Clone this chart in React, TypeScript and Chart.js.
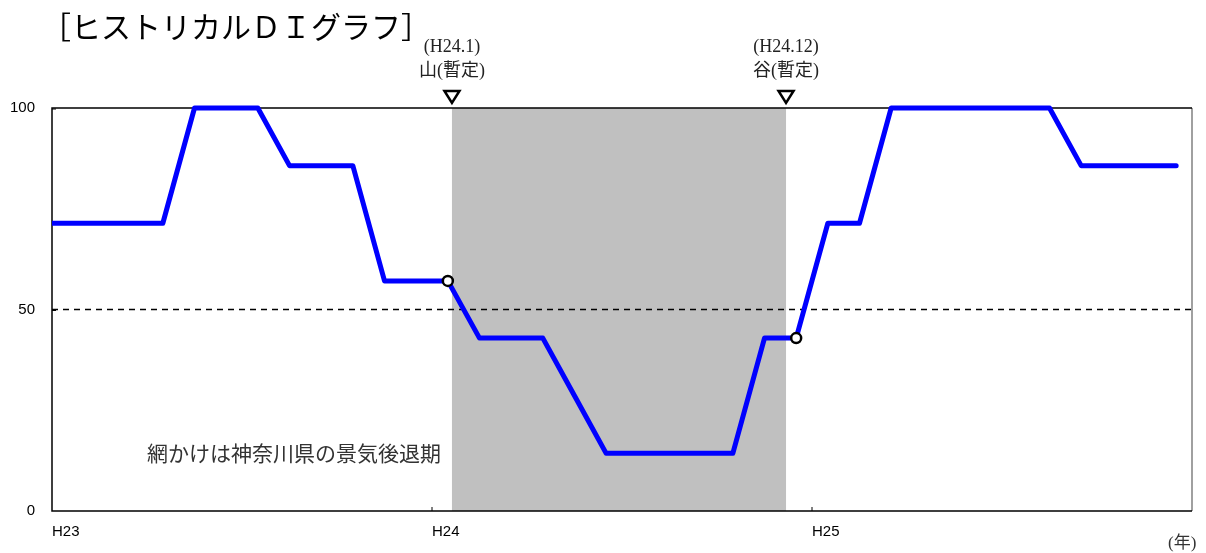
import React, { useEffect, useRef } from "react";
import { Chart, registerables } from "chart.js";

Chart.register(...registerables);

const monthLabels = [
  "H22.12",
  "H23.1", "H23.2", "H23.3", "H23.4", "H23.5", "H23.6", "H23.7", "H23.8", "H23.9", "H23.10", "H23.11", "H23.12",
  "H24.1", "H24.2", "H24.3", "H24.4", "H24.5", "H24.6", "H24.7", "H24.8", "H24.9", "H24.10", "H24.11", "H24.12",
  "H25.1", "H25.2", "H25.3", "H25.4", "H25.5", "H25.6", "H25.7", "H25.8", "H25.9", "H25.10", "H25.11", "H25.12",
];

const diValues = [
  71.4,
  71.4, 71.4, 71.4, 71.4, 100, 100, 100, 85.7, 85.7, 85.7, 57.1, 57.1,
  57.1, 42.9, 42.9, 42.9, 28.6, 14.3, 14.3, 14.3, 14.3, 14.3, 42.9, 42.9,
  71.4, 71.4, 100, 100, 100, 100, 100, 100, 85.7, 85.7, 85.7, 85.7,
];

const yearLabels = ["H23", "H24", "H25"];
const yTicks = [0, 50, 100];
const turningPointLabels = ["H24.1", "H24.12"];
const turningPointTitles = ["(H24.1)", "(H24.12)"];
const turningPointNames = ["山(暫定)", "谷(暫定)"];
const recessionBounds = [12.63, 23.18];

const TITLE = "［ヒストリカルＤＩグラフ］";
const NOTE = "網かけは神奈川県の景気後退期";
const UNIT = "(年)";

const serif = '"Liberation Serif", "Noto Sans CJK JP", serif';
const sans = '"Noto Sans CJK JP", "Liberation Sans", sans-serif';

const decorPlugin = {
  id: "decor",
  beforeDatasetsDraw(chart: any) {
    const { ctx, chartArea: a, scales } = chart;
    const x = scales.x;
    const y = scales.y;
    ctx.save();
    const x0 = x.getPixelForValue(recessionBounds[0]);
    const x1 = x.getPixelForValue(recessionBounds[1]);
    ctx.fillStyle = "#C0C0C0";
    ctx.fillRect(x0, a.top, x1 - x0, a.bottom - a.top);
    const y50 = y.getPixelForValue(50);
    ctx.strokeStyle = "#000";
    ctx.lineWidth = 1.5;
    ctx.setLineDash([6, 5]);
    ctx.beginPath();
    ctx.moveTo(a.left, y50);
    ctx.lineTo(a.right, y50);
    ctx.stroke();
    ctx.setLineDash([]);
    ctx.strokeStyle = "#808080";
    ctx.lineWidth = 1.5;
    ctx.beginPath();
    ctx.moveTo(a.right, a.top);
    ctx.lineTo(a.right, a.bottom);
    ctx.stroke();
    ctx.strokeStyle = "#000";
    ctx.beginPath();
    ctx.moveTo(a.right, a.top);
    ctx.lineTo(a.left, a.top);
    ctx.lineTo(a.left, a.bottom);
    ctx.lineTo(a.right, a.bottom);
    ctx.stroke();
    ctx.lineWidth = 1;
    yTicks.forEach((v) => {
      if (v === 0) return;
      const py = y.getPixelForValue(v);
      ctx.beginPath();
      ctx.moveTo(a.left, py + 1);
      ctx.lineTo(a.left + 4, py + 1);
      ctx.stroke();
    });
    yearLabels.forEach((_, i) => {
      if (i === 0) return;
      const px = x.getPixelForValue(i * 12);
      ctx.beginPath();
      ctx.moveTo(px, a.bottom);
      ctx.lineTo(px, a.bottom - 4);
      ctx.stroke();
    });
    ctx.restore();
  },
  afterDraw(chart: any) {
    const { ctx, chartArea: a, scales } = chart;
    const x = scales.x;
    ctx.save();
    ctx.fillStyle = "#000";
    ctx.font = `30px ${sans}`;
    ctx.textAlign = "left";
    ctx.textBaseline = "middle";
    ctx.fillText(TITLE, 41, 27);
    recessionBounds.forEach((b, i) => {
      const px = x.getPixelForValue(b);
      ctx.fillStyle = "#222";
      ctx.textAlign = "center";
      ctx.font = `18px ${serif}`;
      ctx.fillText(turningPointTitles[i], px, 47);
      ctx.fillText(turningPointNames[i], px, 71);
      ctx.strokeStyle = "#000";
      ctx.lineWidth = 2.5;
      ctx.beginPath();
      ctx.moveTo(px - 7.5, 91);
      ctx.lineTo(px + 7.5, 91);
      ctx.lineTo(px, a.top - 5);
      ctx.closePath();
      ctx.stroke();
    });
    ctx.fillStyle = "#333";
    ctx.textAlign = "left";
    ctx.font = `21px ${sans}`;
    ctx.fillText(NOTE, 147, 453);
    ctx.fillStyle = "#333";
    ctx.font = `17px ${serif}`;
    ctx.textAlign = "left";
    ctx.fillText(UNIT, 1168, 544);
    ctx.restore();
  },
};

export default function App() {
  const ref = useRef<HTMLCanvasElement | null>(null);
  useEffect(() => {
    if (!ref.current) return;
    const points = diValues.map((v, i) => ({ x: i - 0.5, y: v }));
    const chart = new Chart(ref.current, {
      type: "line",
      data: {
        datasets: [
          {
            label: "ヒストリカルDI",
            data: points,
            borderColor: "#0000FF",
            borderWidth: 5,
            borderJoinStyle: "round",
            borderCapStyle: "round",
            clip: { left: 0, top: 6, right: 6, bottom: 6 } as any,
            pointRadius: (c: any) =>
              turningPointLabels.includes(monthLabels[c.dataIndex]) ? 5 : 0,
            pointBackgroundColor: "#FFFFFF",
            pointBorderColor: "#000000",
            pointBorderWidth: 2.5,
            tension: 0,
          },
        ],
      },
      options: {
        animation: false,
        responsive: false,
        maintainAspectRatio: false,
        layout: { padding: { top: 108, right: 14, left: 0, bottom: 0 } },
        plugins: { legend: { display: false }, tooltip: { enabled: false } },
        scales: {
          x: {
            type: "linear",
            min: 0,
            max: 36,
            grid: { display: false, drawTicks: false },
            border: { display: false },
            afterBuildTicks: (s: any) => {
              s.ticks = yearLabels.map((_, i) => ({ value: i * 12 }));
            },
            afterFit: (s: any) => {
              s.height = 42;
            },
            ticks: {
              align: "start",
              padding: 12,
              color: "#000",
              font: { family: '"Liberation Sans", sans-serif', size: 15 },
              maxRotation: 0,
              autoSkip: false,
              callback: (v: any) => yearLabels[Math.round(Number(v) / 12)] ?? "",
            },
          },
          y: {
            min: 0,
            max: 100,
            grid: { display: false, drawTicks: false },
            border: { display: false },
            afterBuildTicks: (s: any) => {
              s.ticks = yTicks.map((v) => ({ value: v }));
            },
            afterFit: (s: any) => {
              s.width = 52;
            },
            ticks: {
              padding: 17,
              color: "#000",
              font: { family: '"Liberation Sans", sans-serif', size: 15 },
            },
          },
        },
      },
      plugins: [decorPlugin],
    } as any);
    return () => chart.destroy();
  }, []);
  return (
    <div style={{ position: "fixed", left: 0, top: 0, width: 1206, height: 553, background: "#fff" }}>
      <canvas ref={ref} width={1206} height={553} style={{ width: 1206, height: 553 }} />
    </div>
  );
}
